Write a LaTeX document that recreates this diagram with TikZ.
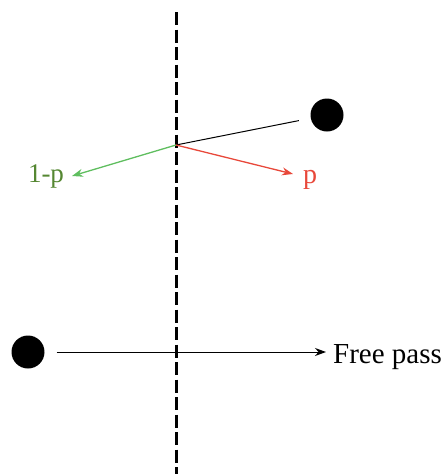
\documentclass[tikz,border=0pt]{standalone}
\usepackage{fontspec}
\setmainfont{Liberation Serif}
\usetikzlibrary{positioning,arrows.meta}
\usepackage{xcolor}
\definecolor{arrowgreen}{RGB}{95,190,95}
\definecolor{labelgreen}{RGB}{85,135,50}
\definecolor{arrowred}{RGB}{232,72,58}

\begin{document}
\begin{tikzpicture}[x=1pt, y=-1pt]
        \useasboundingbox (0,0) rectangle (444,474);

        % Barrier
        \draw[line width=3pt, dash pattern=on 13pt off 4.5pt] (176,12) -- (176,474);

        % Balls
        \node[circle, fill, inner sep=0pt, minimum size=33pt] (top)    at (327,115) {};
        \node[circle, fill, inner sep=0pt, minimum size=33pt] (bottom) at (28,352)  {};

        % Hit point and arrow tips
        \coordinate (hit)  at (176,145);
        \coordinate (gtip) at (72,176);
        \coordinate (rtip) at (293,174);

        % Labels
        \node[text=labelgreen, font=\fontsize{27}{27}\selectfont, inner sep=0pt, anchor=base] (q) at (46,182) {1-p};
        \node[text=arrowred,   font=\fontsize{28}{28}\selectfont, inner sep=0pt, anchor=base] (p) at (310,183) {p};
        \node[font=\fontsize{29}{29}\selectfont, inner sep=0pt, anchor=base west] (free) at (333,363) {Free pass};

        % Incoming path
        \draw[line width=1pt, shorten <=12pt] (top) -- (hit);

        % Outgoing paths
        \draw[arrowgreen, line width=1.3pt, -{Stealth[length=11pt, width=8pt]}] (hit) -- (gtip);
        \draw[arrowred,   line width=1.3pt, -{Stealth[length=11pt, width=8pt]}] (hit) -- (rtip);

        % Free pass
        \draw[line width=1pt, shorten <=12pt, shorten >=7pt, -{Stealth[length=11pt, width=8pt]}] (bottom) -- (free.west |- bottom);
    \end{tikzpicture}
\end{document}
